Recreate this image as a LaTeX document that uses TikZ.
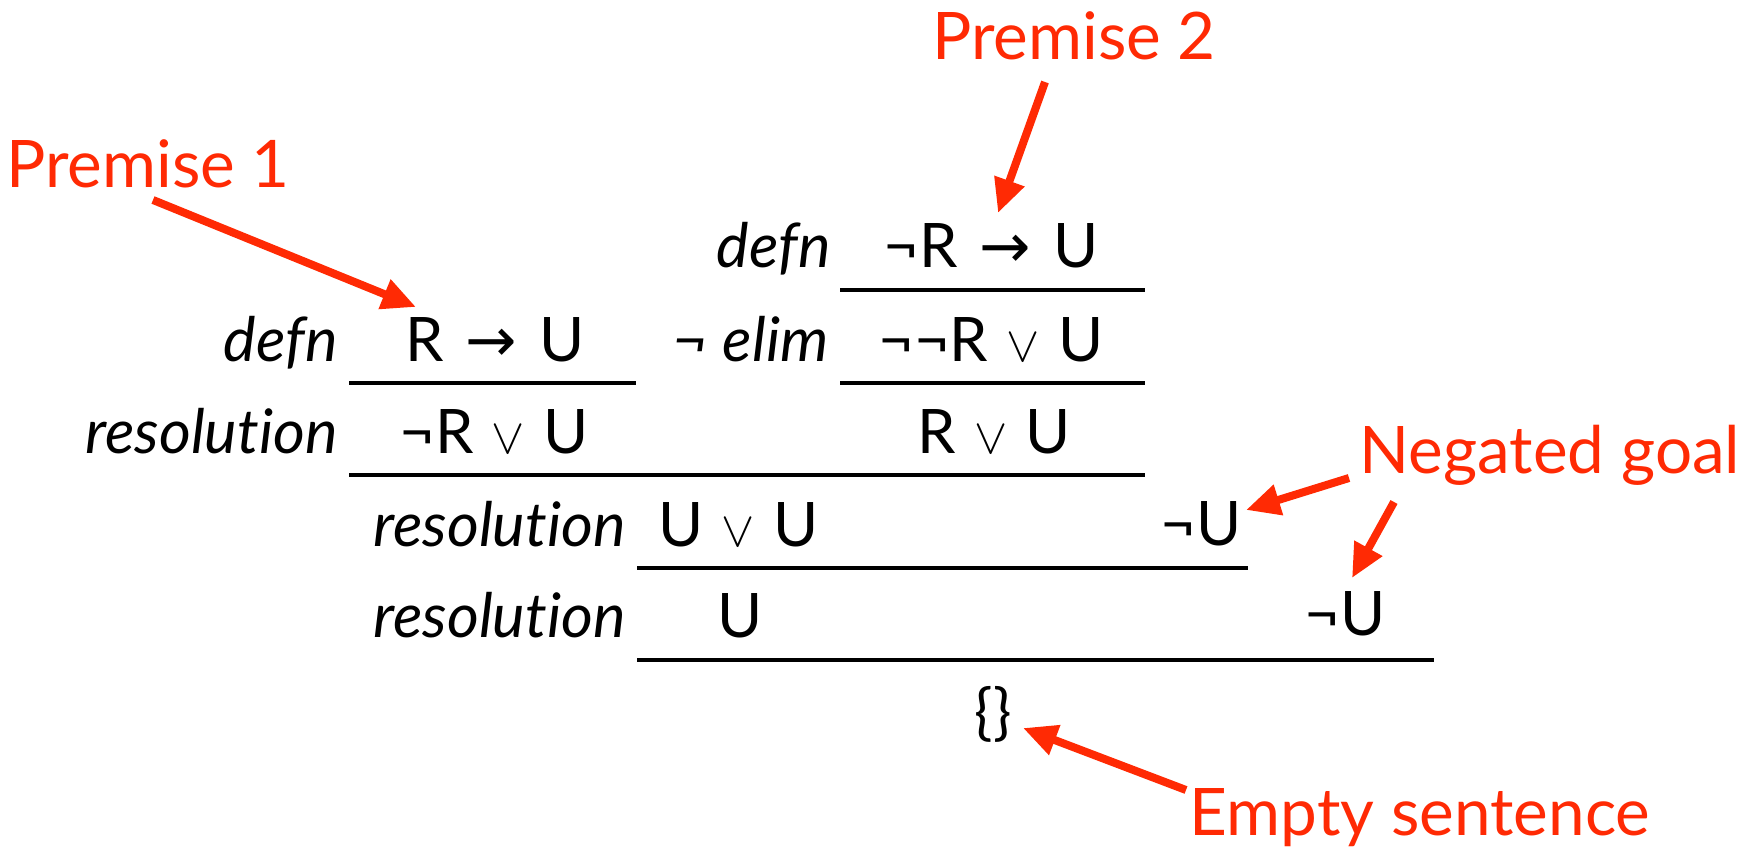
\documentclass[tikz,border=0pt]{standalone}
\usepackage{fontspec}
\setmainfont{Lato}[Ligatures=CommonOff]
\newfontfamily\symfont{DejaVu Sans}
\usetikzlibrary{arrows.meta}
\definecolor{calloutRed}{HTML}{FF2A04}
\newcommand{\impsym}{\hspace{0.36em}{\symfont →}\hspace{0.36em}}
\newcommand{\orsym}{\hspace{0.3em}{\fontsize{26}{30}\selectfont$\vee$}\hspace{0.3em}}
\tikzset{
  formula/.style={inner sep=0pt,anchor=base west,font={\fontsize{30.7}{36}\selectfont}},
  rulename/.style={inner sep=0pt,anchor=base east,font={\fontsize{30.7}{36}\selectfont\itshape}},
  callout/.style={inner sep=0pt,anchor=base,text=calloutRed,font={\fontsize{32.8}{38}\selectfont}},
  pointer/.style={draw=calloutRed,line width=4pt,-{Triangle[length=17pt,width=15pt]}},
  proofrule/.style={line width=2pt}
}
\begin{document}
\begin{tikzpicture}[x=0.5pt,y=-0.5pt]
\useasboundingbox (0,0) rectangle (1749,847);
% premise 2 branch
\node[rulename] (defnB) at (831,267) {defn};
\node[formula] (prem2) at (883,267) {¬R\impsym U};
\node[rulename] (elim) at (829,361) {¬ elim};
\node[formula] (dneg) at (878,361) {¬¬R\orsym U};
\node[formula] (rorU) at (917,453) {R\orsym U};
% premise 1 branch
\node[rulename] (defnA) at (338,361) {defn};
\node[formula] (prem1) at (405,361) {R\impsym U};
\node[rulename] (resA) at (338,453) {resolution};
\node[formula] (nrorU) at (399,453) {¬R\orsym U};
% lower steps
\node[rulename] (resB) at (626,546) {resolution};
\node[formula] (uoru) at (658,546) {U\orsym U};
\node[formula] (goalA) at (1160,545) {¬U};
\node[rulename] (resC) at (626,637) {resolution};
\node[formula] (unit) at (717,637) {U};
\node[formula] (goalB) at (1304,635) {¬U};
\node[formula,anchor=center] (empty) at (993,714) {\{\}};

% inference lines
\foreach \xa/\xb/\ya in {840/1145/290,349/636/383,840/1145/383,349/1145/475,637/1248/568,637/1434/660}
  \draw[proofrule] (\xa,\ya) -- (\xb,\ya);

% callouts
\node[callout] (lblA) at (148,187) {Premise 1};
\node[callout] (lblB) at (1074,59) {Premise 2};
\node[callout] (lblG) at (1550,473) {Negated goal};
\node[callout] (lblE) at (1420,835) {Empty sentence};
\coordinate (tipA) at (416,307);
\coordinate (tipB) at (998,213);
\coordinate (tipG1) at (1246,510);
\coordinate (tipG2) at (1352,578);
\coordinate (tipE) at (1023,728);
\draw[pointer] ([xshift=2.5pt,yshift=-6.5pt]lblA.base) -- (tipA);
\draw[pointer] ([xshift=-14.5pt,yshift=-11.5pt]lblB.base) -- (tipB);
\draw[pointer] ([xshift=-100.5pt,yshift=-2.5pt]lblG.base) -- (tipG1);
\draw[pointer] ([xshift=-78pt,yshift=-14.5pt]lblG.base) -- (tipG2);
\draw[pointer] ([xshift=-117pt,yshift=22.5pt]lblE.base) -- (tipE);
\end{tikzpicture}
\end{document}
